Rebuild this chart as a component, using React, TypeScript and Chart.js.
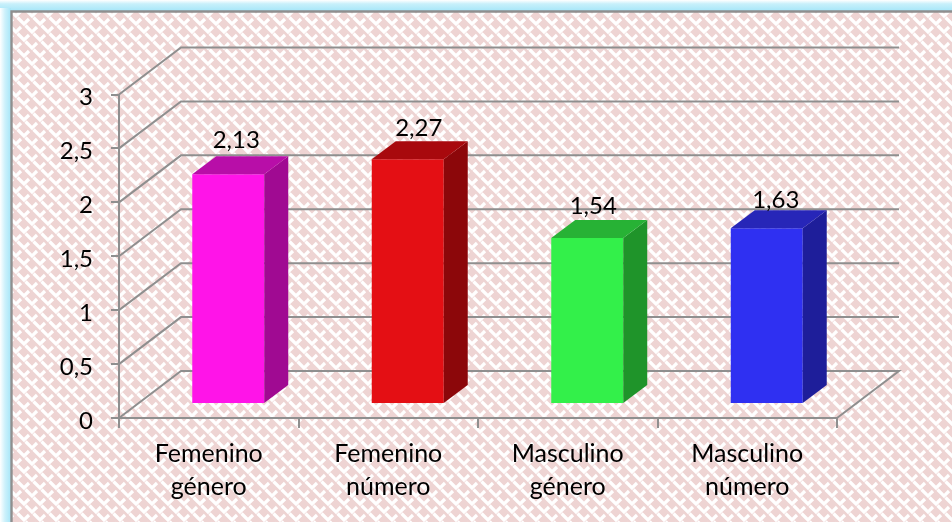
import { useEffect, useRef } from "react";
import { Chart, registerables } from "chart.js";

Chart.register(...registerables);

const categories = [["Femenino", "género"], ["Femenino", "número"], ["Masculino", "género"], ["Masculino", "número"]];
const values = [2.13, 2.27, 1.54, 1.63];
const valueLabels = ["2,13", "2,27", "1,54", "1,63"];
const frontColors = ["#ff14e8", "#e40f14", "#33f04a", "#2f30f2"];
const topColors = ["#b80ea8", "#a8090d", "#27b235", "#2726b8"];
const sideColors = ["#a00a92", "#8c070a", "#1f942a", "#1e1e9a"];
const labelShiftX = [8, 11, 6, 9];
const labelRise = [8, 5, 6, 2];

const FONT = "Lato, 'Open Sans', sans-serif";
const GRID = "#8f8f8f";
const BACK_DX = 62;
const BACK_DY = -47;
const BAR_DX = 19.5;
const BAR_DY = -14;
const SIDE_DX = 24;
const SIDE_DY = -18;

function makePattern(ctx: CanvasRenderingContext2D) {
  const P = 16;
  const tile = document.createElement("canvas");
  tile.width = P;
  tile.height = P;
  const t = tile.getContext("2d")!;
  t.fillStyle = "#eed4d3";
  t.fillRect(0, 0, P, P);
  t.strokeStyle = "#ffffff";
  t.lineWidth = 3.2;
  t.lineCap = "butt";
  t.lineJoin = "miter";
  const mark = (x: number, y: number) => {
    t.beginPath();
    t.moveTo(x - 6.5, y - 6.5);
    t.lineTo(x, y);
    t.lineTo(x + 5, y - 5);
    t.stroke();
  };
  for (let ox = -P; ox <= P * 2; ox += P) {
    for (let oy = -P; oy <= P * 2; oy += P) {
      mark(ox, oy);
      mark(ox + P / 2, oy + P / 2);
    }
  }
  return ctx.createPattern(tile, "repeat")!;
}

const scenePlugin = {
  id: "scene",
  beforeDraw(chart: any) {
    const { ctx, width, height } = chart;
    ctx.save();
    ctx.fillStyle = "#ffffff";
    ctx.fillRect(0, 0, width, height);
    const gt = ctx.createLinearGradient(0, 0, 0, 11);
    gt.addColorStop(0, "#ffffff");
    gt.addColorStop(0.35, "#c8f0fb");
    gt.addColorStop(1, "#a6e6f8");
    ctx.fillStyle = gt;
    ctx.fillRect(0, 0, width, 11);
    const gl = ctx.createLinearGradient(0, 0, 11, 0);
    gl.addColorStop(0, "#ffffff");
    gl.addColorStop(0.45, "#cdf1fb");
    gl.addColorStop(1, "#a6e6f8");
    ctx.fillStyle = gl;
    ctx.fillRect(0, 8, 11, height);
    ctx.fillStyle = makePattern(ctx);
    ctx.fillRect(12, 12, width - 12, height - 12);
    ctx.strokeStyle = "#8f8f8f";
    ctx.lineWidth = 2.4;
    ctx.beginPath();
    ctx.moveTo(11.5, height);
    ctx.lineTo(11.5, 11.5);
    ctx.lineTo(width, 11.5);
    ctx.stroke();
    ctx.restore();
  },
  beforeDatasetsDraw(chart: any) {
    const { ctx, scales, chartArea } = chart;
    ctx.save();
    ctx.strokeStyle = GRID;
    ctx.lineWidth = 2;
    ctx.lineJoin = "miter";
    for (const tick of scales.y.ticks) {
      const y = scales.y.getPixelForValue(tick.value);
      ctx.beginPath();
      ctx.moveTo(chartArea.left, y);
      ctx.lineTo(chartArea.left + BACK_DX, y + BACK_DY);
      ctx.lineTo(chartArea.right + BACK_DX, y + BACK_DY);
      if (tick.value === 0) ctx.lineTo(chartArea.right, y);
      ctx.stroke();
    }
    ctx.restore();
    ctx.save();
    ctx.translate(BAR_DX, BAR_DY);
  },
  afterDatasetsDraw(chart: any) {
    const { ctx } = chart;
    const bars = chart.getDatasetMeta(0).data;
    bars.forEach((bar: any, i: number) => {
      const l = bar.x - bar.width / 2;
      const r = bar.x + bar.width / 2;
      ctx.fillStyle = sideColors[i];
      ctx.beginPath();
      ctx.moveTo(r, bar.y);
      ctx.lineTo(r + SIDE_DX, bar.y + SIDE_DY);
      ctx.lineTo(r + SIDE_DX, bar.base + SIDE_DY);
      ctx.lineTo(r, bar.base);
      ctx.closePath();
      ctx.fill();
      ctx.fillStyle = topColors[i];
      ctx.beginPath();
      ctx.moveTo(l, bar.y);
      ctx.lineTo(l + SIDE_DX, bar.y + SIDE_DY);
      ctx.lineTo(r + SIDE_DX, bar.y + SIDE_DY);
      ctx.lineTo(r, bar.y);
      ctx.closePath();
      ctx.fill();
    });
    ctx.restore();
    ctx.save();
    ctx.fillStyle = "#000000";
    ctx.font = `24px ${FONT}`;
    ctx.textAlign = "center";
    ctx.textBaseline = "alphabetic";
    bars.forEach((bar: any, i: number) => {
      const x = bar.x + BAR_DX + labelShiftX[i];
      const y = bar.y + BAR_DY + SIDE_DY - labelRise[i];
      ctx.fillText(valueLabels[i], x, y);
    });
    ctx.restore();
  },
};

export default function App() {
  const ref = useRef<HTMLCanvasElement>(null);
  useEffect(() => {
    document.body.style.margin = "0";
    const chart = new Chart(ref.current!, {
      type: "bar",
      data: {
        labels: categories,
        datasets: [
          {
            data: values,
            backgroundColor: frontColors,
            borderWidth: 0,
            categoryPercentage: 0.401,
            barPercentage: 1,
            clip: false,
          } as any,
        ],
      },
      options: {
        responsive: false,
        animation: false,
        layout: { padding: { left: 0, right: 115, top: 94.5, bottom: 0 } },
        plugins: { legend: { display: false }, tooltip: { enabled: false } },
        scales: {
          x: {
            afterFit: (s: any) => {
              s.height = 104;
            },
            border: { display: true, color: GRID, width: 2 },
            grid: { drawOnChartArea: false, drawTicks: true, tickLength: 10, color: GRID, lineWidth: 2 },
            ticks: {
              color: "#000000",
              padding: 9,
              maxRotation: 0,
              autoSkip: false,
              font: { family: FONT, size: 25, lineHeight: 1.32 },
            },
          },
          y: {
            min: 0,
            max: 3,
            afterFit: (s: any) => {
              s.width = 119;
            },
            border: { display: true, color: GRID, width: 2 },
            grid: { drawOnChartArea: false, drawTicks: true, tickLength: 8, color: GRID, lineWidth: 2 },
            ticks: {
              color: "#000000",
              padding: 18,
              stepSize: 0.5,
              font: { family: FONT, size: 24, lineHeight: "6px" },
              callback: (v: any) => ["", String(v).replace(".", ",")],
            },
          },
        },
      },
      plugins: [scenePlugin],
    });
    return () => chart.destroy();
  }, []);
  return <canvas ref={ref} width={952} height={522} style={{ display: "block" }} />;
}
